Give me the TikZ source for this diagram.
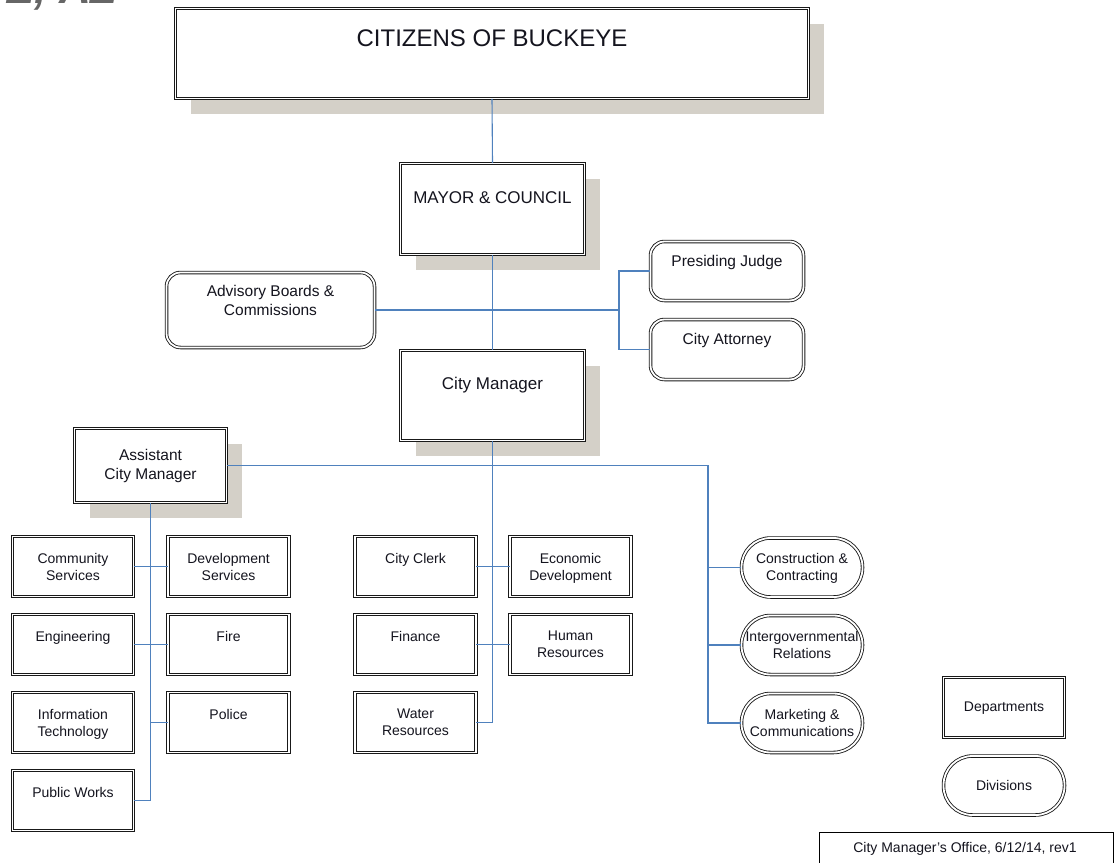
\documentclass[tikz,border=0pt]{standalone}
\usepackage{fontspec}
\setmainfont{Liberation Sans}
\usetikzlibrary{shadows}
\definecolor{shadowc}{RGB}{212,208,200}
\definecolor{linkc}{RGB}{79,129,189}
\definecolor{inkc}{RGB}{20,20,30}
\begin{document}
\begin{tikzpicture}[x=1pt,y=-1pt,
  box/.style={draw=black!90, double=white, double distance=1.8pt, line width=0.85pt,
    fill=white, inner sep=0pt},
  shadowed/.style={drop shadow={shadow xshift=15pt, shadow yshift=-15pt, fill=shadowc, opacity=1}},
  deptbox/.style={box, minimum width=121pt, minimum height=60pt},
  divbox/.style={box, rounded corners=29pt, minimum width=121pt, minimum height=59pt},
  roundbox/.style={box, rounded corners=14pt},
  txt/.style={inner sep=0pt, align=center, anchor=north, text=inkc,
    font=\fontsize{14}{17}\selectfont},
  midtxt/.style={txt, font=\fontsize{15.5}{18.5}\selectfont},
  bigtxt/.style={txt, font=\fontsize{17}{20}\selectfont},
  link/.style={draw=linkc, line width=1.1pt}
]
\useasboundingbox (0,0) rectangle (1115,862);
\clip (0,0) rectangle (1115,862);

% title fragment (cut off at the top edge)
\node[anchor=base east, inner sep=0pt, text=black!60,
  font=\fontsize{44}{44}\selectfont\bfseries\itshape] (title) at (118,3) {E, AZ};

% top boxes
\node[box, shadowed, minimum width=633pt, minimum height=90pt] (cit) at (492,53.5) {};
\node[txt, font=\fontsize{24}{29}\selectfont] (cit-t) at (492,29.5) {CITIZENS OF BUCKEYE};
\node[box, shadowed, minimum width=184pt, minimum height=91pt] (may) at (492.5,209) {};
\node[bigtxt] (may-t) at (492.5,191) {MAYOR \& COUNCIL};
\node[box, shadowed, minimum width=184pt, minimum height=90pt] (cm) at (492.5,395.5) {};
\node[bigtxt] (cm-t) at (492.5,377) {City Manager};
\node[box, shadowed, minimum width=152pt, minimum height=74pt] (acm) at (150.5,465.5) {};
\node[midtxt, font=\fontsize{15.5}{19}\selectfont] (acm-t) at (150.5,449.5) {Assistant\\City Manager};

\node[roundbox, minimum width=208pt, minimum height=75pt] (adv) at (270.5,310) {};
\node[midtxt] (adv-t) at (270.5,285.5) {Advisory Boards \&\\Commissions};
\node[roundbox, minimum width=153pt, minimum height=59pt] (judge) at (727,271) {};
\node[midtxt] (judge-t) at (727,255.5) {Presiding Judge};
\node[roundbox, minimum width=153pt, minimum height=60pt] (atty) at (727,349.5) {};
\node[midtxt] (atty-t) at (727,333.5) {City Attorney};

% departments under assistant city manager
\node[deptbox] (comm) at (73,566.5) {};
\node[txt] (comm-t) at (73,553) {Community\\Services};
\node[deptbox] (dev) at (228.5,566.5) {};
\node[txt] (dev-t) at (228.5,553) {Development\\Services};
\node[deptbox] (eng) at (73,644.5) {};
\node[txt] (eng-t) at (73,631) {Engineering};
\node[deptbox] (fire) at (228.5,644.5) {};
\node[txt] (fire-t) at (228.5,631) {Fire};
\node[deptbox] (it) at (73,722.5) {};
\node[txt] (it-t) at (73,709) {Information\\Technology};
\node[deptbox] (pol) at (228.5,722.5) {};
\node[txt] (pol-t) at (228.5,709) {Police};
\node[deptbox] (pw) at (73,800.5) {};
\node[txt] (pw-t) at (73,787) {Public Works};

% departments under city manager
\node[deptbox] (clerk) at (415.5,566.5) {};
\node[txt] (clerk-t) at (415.5,553) {City Clerk};
\node[deptbox] (econ) at (570.5,566.5) {};
\node[txt] (econ-t) at (570.5,553) {Economic\\Development};
\node[deptbox] (fin) at (415.5,644.5) {};
\node[txt] (fin-t) at (415.5,631) {Finance};
\node[deptbox] (hr) at (570.5,644.5) {};
\node[txt] (hr-t) at (570.5,631) {Human\\Resources};
\node[deptbox] (water) at (415.5,722.5) {};
\node[txt] (water-t) at (415.5,709) {Water\\Resources};

% divisions
\node[divbox] (con) at (802,567.5) {};
\node[txt] (con-t) at (802,553) {Construction \&\\Contracting};
\node[divbox] (igr) at (802,645) {};
\node[txt] (igr-t) at (802,631) {Intergovernmental\\Relations};
\node[divbox] (mkt) at (802,723) {};
\node[txt] (mkt-t) at (802,709) {Marketing \&\\Communications};

% legend
\node[deptbox] (legd) at (1004,707.5) {};
\node[txt] (legd-t) at (1004,702) {Departments};
\node[divbox] (legv) at (1004,785.5) {};
\node[txt] (legv-t) at (1004,780) {Divisions};

% footer
\node[draw=black, line width=0.9pt, fill=white, anchor=north west, inner sep=0pt,
  minimum width=294pt, minimum height=40pt] (foot) at (818.5,832) {};
\node[txt] (foot-t) at (965,842) {City Manager's Office, 6/12/14, rev1};

% connectors
\coordinate (jx) at (619,310);
\coordinate (dx) at (708,465.5);
\draw[link] (cit.south) -- (may.north);
\draw[link] (may.south) -- (cm.north);
\draw[link] (adv.east) -- (jx);
\draw[link] (judge.west) -| (jx) |- (atty.west);
\draw[link] (cm.south) |- (water.east);
\draw[link] (clerk.east) -- (econ.west);
\draw[link] (fin.east) -- (hr.west);
\draw[link] (acm.east) -- (dx) |- (mkt.west);
\draw[link] (con.west) -- (con.west -| dx);
\draw[link] (igr.west) -- (igr.west -| dx);
\draw[link] (acm.south) |- (pw.east);
\draw[link] (comm.east) -- (dev.west);
\draw[link] (eng.east) -- (fire.west);
\draw[link] (pol.west) -- (pol.west -| acm.south);
\end{tikzpicture}
\end{document}
